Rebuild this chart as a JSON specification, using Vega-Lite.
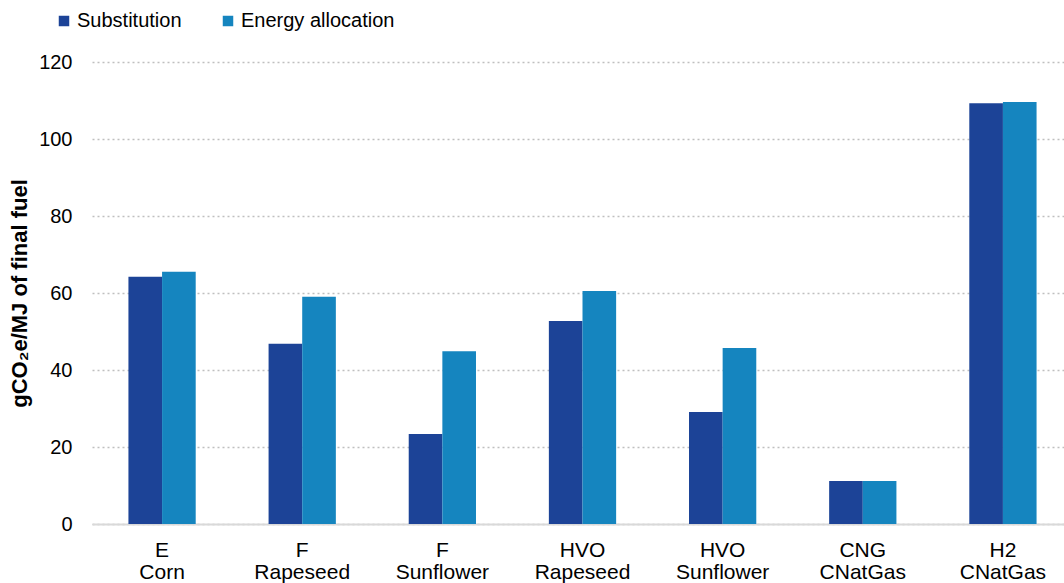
{
  "$schema": "https://vega.github.io/schema/vega-lite/v6.json",
  "width": 981,
  "height": 462,
  "autosize": {"type": "none"},
  "padding": {"left": 92, "top": 62, "right": 0, "bottom": 59},
  "background": "white",
  "config": {
    "font": "Liberation Sans",
    "view": {"stroke": null}
  },
  "data": {
    "values": [
      {"fuel": "E|Corn", "method": "Substitution", "value": 64.2},
      {"fuel": "E|Corn", "method": "Energy allocation", "value": 65.5},
      {"fuel": "F|Rapeseed", "method": "Substitution", "value": 46.8},
      {"fuel": "F|Rapeseed", "method": "Energy allocation", "value": 59.0},
      {"fuel": "F|Sunflower", "method": "Substitution", "value": 23.4},
      {"fuel": "F|Sunflower", "method": "Energy allocation", "value": 44.9},
      {"fuel": "HVO|Rapeseed", "method": "Substitution", "value": 52.7},
      {"fuel": "HVO|Rapeseed", "method": "Energy allocation", "value": 60.5},
      {"fuel": "HVO|Sunflower", "method": "Substitution", "value": 29.1},
      {"fuel": "HVO|Sunflower", "method": "Energy allocation", "value": 45.7},
      {"fuel": "CNG|CNatGas", "method": "Substitution", "value": 11.2},
      {"fuel": "CNG|CNatGas", "method": "Energy allocation", "value": 11.2},
      {"fuel": "H2|CNatGas", "method": "Substitution", "value": 109.3},
      {"fuel": "H2|CNatGas", "method": "Energy allocation", "value": 109.6}
    ]
  },
  "mark": {"type": "bar"},
  "encoding": {
    "x": {
      "field": "fuel",
      "type": "nominal",
      "sort": null,
      "scale": {"paddingInner": 0.52, "paddingOuter": 0.26},
      "axis": {
        "title": null,
        "labelAngle": 0,
        "labelExpr": "split(datum.value, '|')",
        "labelFontSize": 21,
        "labelColor": "#000000",
        "labelPadding": 15,
        "labelLineHeight": 22,
        "ticks": false,
        "domainColor": "#d9d9d9",
        "domainWidth": 2,
        "grid": false
      }
    },
    "xOffset": {
      "field": "method",
      "type": "nominal",
      "sort": ["Substitution", "Energy allocation"],
      "scale": {"paddingInner": 0}
    },
    "y": {
      "field": "value",
      "type": "quantitative",
      "scale": {"domain": [0, 120], "nice": false},
      "axis": {
        "title": "gCO₂e/MJ of final fuel",
        "titleFontSize": 22,
        "titleFontWeight": "bold",
        "titleColor": "#000000",
        "titlePadding": 7,
        "values": [0, 20, 40, 60, 80, 100, 120],
        "labelFontSize": 20,
        "labelColor": "#000000",
        "labelPadding": 20,
        "domain": false,
        "ticks": false,
        "grid": true,
        "gridColor": "#bfbfbf",
        "gridDash": [2, 3],
        "gridWidth": 1.5
      }
    },
    "color": {
      "field": "method",
      "type": "nominal",
      "sort": ["Substitution", "Energy allocation"],
      "scale": {"domain": ["Substitution", "Energy allocation"], "range": ["#1c4397", "#1585bf"]},
      "legend": {
        "title": null,
        "orient": "none",
        "direction": "horizontal",
        "legendX": -38,
        "legendY": -51,
        "symbolType": "square",
        "symbolSize": 110,
        "symbolStrokeWidth": 0,
        "labelFontSize": 20,
        "labelColor": "#000000",
        "labelOffset": 3,
        "columnPadding": 36
      }
    }
  }
}
